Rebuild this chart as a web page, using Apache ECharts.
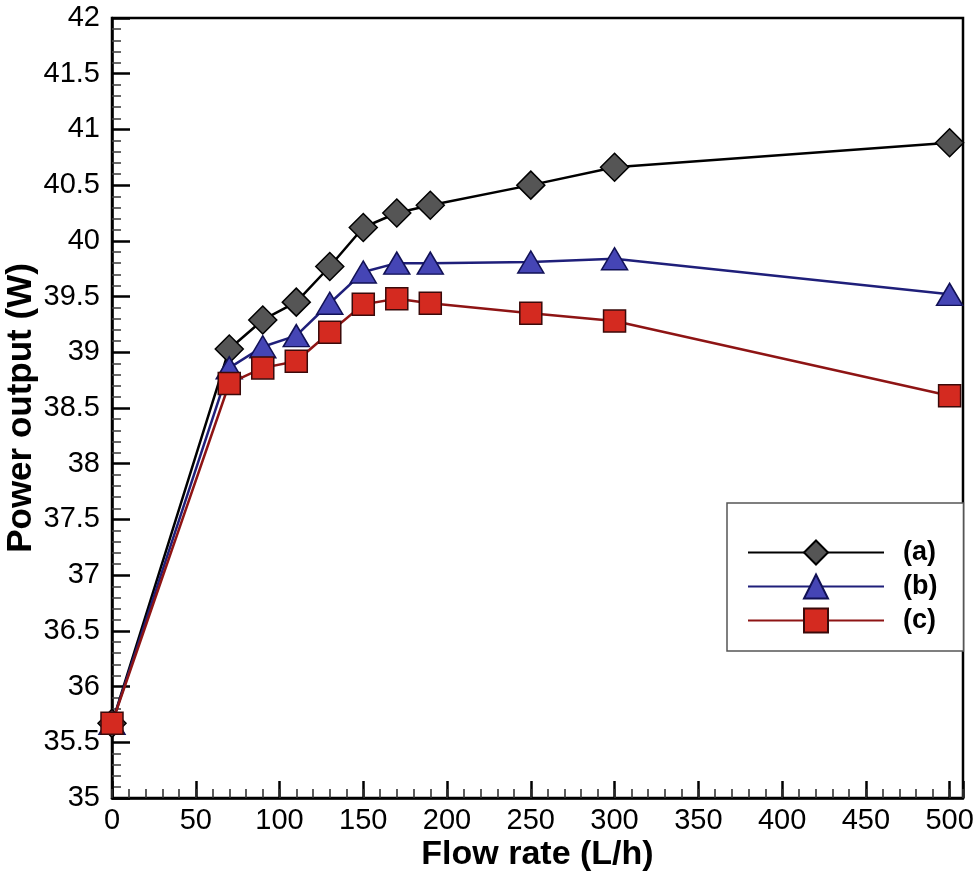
<!DOCTYPE html>
<html>
<head>
<meta charset="utf-8">
<script src="https://cdn.jsdelivr.net/npm/echarts@6/dist/echarts.min.js"></script>
<style>
  html, body { margin: 0; padding: 0; background: #fff; }
  #chart { width: 975px; height: 873px; }
</style>
</head>
<body>
<div id="chart"></div>
<script>
// Data
const flowRate = [0, 70, 90, 110, 130, 150, 170, 190, 250, 300, 500];
const seriesA = [35.67, 39.03, 39.29, 39.45, 39.77, 40.12, 40.25, 40.32, 40.50, 40.66, 40.88];
const seriesB = [35.67, 38.86, 39.05, 39.15, 39.44, 39.72, 39.80, 39.80, 39.81, 39.84, 39.52];
const seriesC = [35.67, 38.72, 38.86, 38.92, 39.18, 39.43, 39.48, 39.44, 39.35, 39.28, 38.61];
const seriesNames = ['(a)', '(b)', '(c)'];
const xTitle = 'Flow rate (L/h)';
const yTitle = 'Power output (W)';

const pair = (ys) => flowRate.map((x, i) => [x, ys[i]]);

const chart = echarts.init(document.getElementById('chart'), null, { renderer: 'canvas' });
const FONT = '"Liberation Sans", Arial, Helvetica, sans-serif';

chart.setOption({
  animation: false,
  backgroundColor: '#ffffff',
  grid: {
    left: 112, top: 18, right: 12, bottom: 75,
    containLabel: false, outerBoundsMode: 'none',
    show: true, borderColor: '#000', borderWidth: 2.5, backgroundColor: 'transparent'
  },
  legend: {
    left: 727, top: 503,
    orient: 'vertical',
    data: seriesNames,
    itemWidth: 136, itemHeight: 30,
    itemGap: 7,
    padding: [36, 26, 17, 20],
    borderColor: '#555', borderWidth: 1.5,
    backgroundColor: '#fff',
    textStyle: { fontFamily: FONT, fontSize: 27, fontWeight: 'bold', color: '#000', padding: [0, 0, 0, 14] }
  },
  xAxis: [{
    type: 'value', min: 0, max: 508, interval: 50, position: 'bottom',
    name: xTitle, nameLocation: 'middle', nameGap: 40, nameMoveOverlap: false,
    nameTextStyle: { fontFamily: FONT, fontSize: 34, fontWeight: 'bold', color: '#000' },
    axisLine: { show: true, lineStyle: { color: '#000', width: 2.5 } },
    axisTick: { show: true, inside: true, length: 17, lineStyle: { color: '#000', width: 2.5 } },
    axisLabel: { fontFamily: FONT, fontSize: 29, color: '#000', margin: 8,
      formatter: (v) => (v % 50 === 0 ? String(v) : '') },
    splitLine: { show: false }
  }, {
    type: 'value', min: 0, max: 508, interval: 10, position: 'bottom',
    axisLine: { show: false },
    axisTick: { show: true, inside: true, length: 9, lineStyle: { color: '#333', width: 1.6 } },
    axisLabel: { show: false },
    splitLine: { show: false }
  }],
  yAxis: {
    type: 'value', min: 35, max: 42, interval: 0.5,
    name: yTitle, nameLocation: 'middle', nameGap: 73, nameMoveOverlap: false,
    nameTextStyle: { fontFamily: FONT, fontSize: 35, fontWeight: 'bold', color: '#000' },
    axisLine: { show: true, lineStyle: { color: '#000', width: 2.5 } },
    axisTick: { show: true, inside: true, length: 18, lineStyle: { color: '#000', width: 2.5 } },
    minorTick: { show: true, splitNumber: 5, length: 9, lineStyle: { color: '#444', width: 1.6 } },
    axisLabel: { fontFamily: FONT, fontSize: 29, color: '#000', margin: 12 },
    splitLine: { show: false }
  },
  series: [{
    name: seriesNames[0], type: 'line', data: pair(seriesA), xAxisIndex: 0,
    clip: false, z: 3,
    symbol: 'diamond', symbolSize: [28, 28],
    lineStyle: { color: '#000', width: 2.5 },
    itemStyle: { color: '#555555', borderColor: '#000', borderWidth: 1.5 }
  }, {
    name: seriesNames[1], type: 'line', data: pair(seriesB), xAxisIndex: 0,
    clip: false, z: 4,
    symbol: 'triangle', symbolSize: [26, 22],
    lineStyle: { color: '#1f1f7a', width: 2.5 },
    itemStyle: { color: '#4545b5', borderColor: '#111155', borderWidth: 1.5 }
  }, {
    name: seriesNames[2], type: 'line', data: pair(seriesC), xAxisIndex: 0,
    clip: false, z: 5,
    symbol: 'rect', symbolSize: [22, 22],
    lineStyle: { color: '#8e1414', width: 2.5 },
    itemStyle: { color: '#d42a20', borderColor: '#3a0a0a', borderWidth: 1.5 }
  }]
});
</script>
</body>
</html>
